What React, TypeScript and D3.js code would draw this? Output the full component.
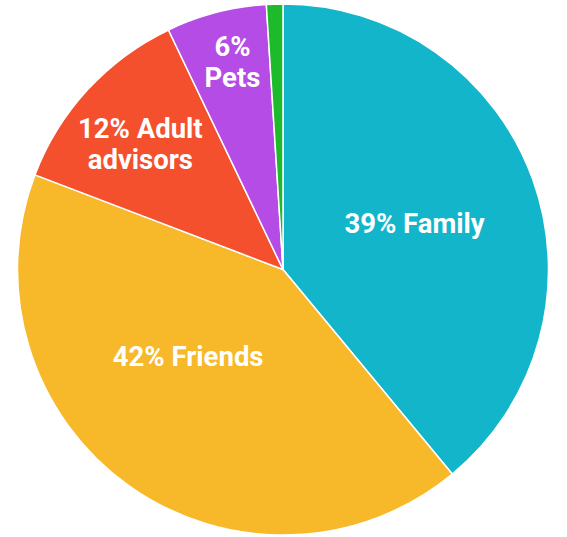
import { useEffect, useRef } from 'react'
import * as d3 from 'd3'

// slice data, clockwise from 12 o'clock
const categories = ['Family', 'Friends', 'Adult advisors', 'Pets', 'Other']
const shares = [39, 41.8, 12.1, 6.1, 1.0]
const labels = [['39% Family'], ['42% Friends'], ['12% Adult', 'advisors'], ['6%', 'Pets'], []]
const colors = ['#13b5ca', '#f7b82a', '#f5502d', '#b54ce5', '#1dba2b']

// where the label sits along each slice (fraction of radius, angle nudge in degrees)
const labelPlace = [
  { r: 0.525, da: 0.5 },
  { r: 0.485, da: 11.8 },
  { r: 0.715, da: -1.4 },
  { r: 0.805, da: 0.9 },
  { r: 0, da: 0 },
]

export default function App() {
  const svgRef = useRef<SVGSVGElement>(null)

  useEffect(() => {
    const W = 567
    const H = 537
    const cx = 283
    const cy = 269.5
    const R = 265.5

    const svg = d3.select(svgRef.current)
    svg.selectAll('*').remove()

    const g = svg.append('g').attr('transform', `translate(${cx},${cy})`)

    const data = categories.map((c, i) => ({ c, v: shares[i], i }))
    const pie = d3.pie<any>().value(d => d.v).sort(null)
    const arcs = pie(data)
    const arc = d3.arc<any>().innerRadius(0).outerRadius(R)

    g.selectAll('path')
      .data(arcs)
      .enter()
      .append('path')
      .attr('d', arc)
      .attr('fill', d => colors[d.data.i])
      .attr('stroke', '#fff')
      .attr('stroke-width', 1.5)
      .attr('stroke-linejoin', 'round')

    arcs.forEach(a => {
      const lines = labels[a.data.i]
      if (!lines.length) return
      const p = labelPlace[a.data.i]
      const ang = (a.startAngle + a.endAngle) / 2 + (p.da * Math.PI) / 180
      const x = Math.sin(ang) * R * p.r
      const y = -Math.cos(ang) * R * p.r
      const lh = 31
      const t = g.append('text')
        .attr('text-anchor', 'middle')
        .attr('fill', '#fff')
        .attr('font-family', 'Roboto, sans-serif')
        .attr('font-weight', 700)
        .attr('font-size', '27.5px')
      lines.forEach((s, k) => {
        t.append('tspan')
          .attr('x', x)
          .attr('y', y + (k - (lines.length - 1) / 2) * lh)
          .attr('dy', '0.35em')
          .text(s)
      })
    })

    svg.attr('viewBox', `0 0 ${W} ${H}`)
  }, [])

  return (
    <svg
      ref={svgRef}
      width={567}
      height={537}
      style={{ position: 'absolute', left: 0, top: 0, display: 'block', background: '#fff' }}
    />
  )
}
